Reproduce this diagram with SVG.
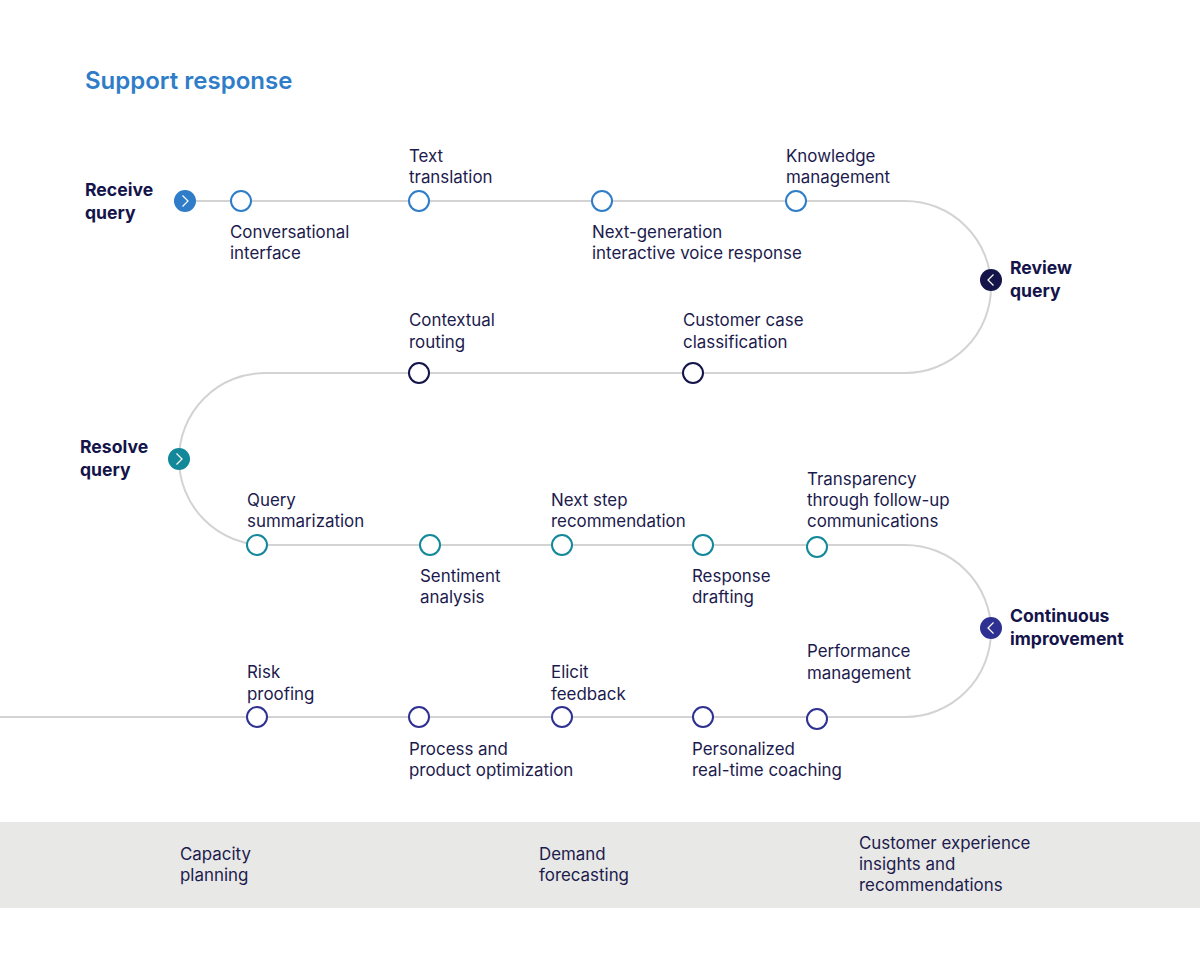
<svg xmlns="http://www.w3.org/2000/svg" width="1200" height="955" viewBox="0 0 1200 955">
<defs>
<style>
.lbl{font-family:Inter,"Liberation Sans",sans-serif;font-size:16.9px;fill:#1c1b4d}
.stage{font-family:Inter,"Liberation Sans",sans-serif;font-size:17.6px;font-weight:700;fill:#14144a}
.title{font-family:Inter,"Liberation Sans",sans-serif;font-size:24px;font-weight:600;fill:#2f7dc8}
.path{fill:none;stroke:#d3d3d3;stroke-width:2}
.n1{fill:#fff;stroke:#2f7dc8;stroke-width:2}
.n2{fill:#fff;stroke:#14144a;stroke-width:2}
.n3{fill:#fff;stroke:#13889a;stroke-width:2}
.n4{fill:#fff;stroke:#2e3192;stroke-width:2}
.chev{fill:none;stroke:#fff;stroke-width:1.2}
</style>
</defs>
<rect width="1200" height="955" fill="#fff"/>
<rect x="0" y="822" width="1200" height="86" fill="#e8e8e6"/>
<text class="title" x="85" y="89">Support response</text>
<g id="connectors">
<path class="path" d="M185,201 H905 A86,86 0 0 1 905,373 H265 A86,86 0 0 0 265,545 H905 A86,86 0 0 1 905,717 H0"/>
</g>
<g id="receive-query">
<circle cx="185" cy="201" r="11" fill="#2f7dc8"/>
<path class="chev" d="M182.5,195.5 L188,201 L182.5,206.5"/>
<text class="stage" x="85" y="196">Receive</text>
<text class="stage" x="85" y="219">query</text>
</g>
<g id="conversational-interface"><circle class="n1" cx="241" cy="201" r="10"/><text class="lbl" x="230" y="238">Conversational</text><text class="lbl" x="230" y="259">interface</text></g>
<g id="text-translation"><circle class="n1" cx="419" cy="201" r="10"/><text class="lbl" x="409" y="162">Text</text><text class="lbl" x="409" y="183">translation</text></g>
<g id="next-gen-ivr"><circle class="n1" cx="602" cy="201" r="10"/><text class="lbl" x="592" y="238">Next-generation</text><text class="lbl" x="592" y="259">interactive voice response</text></g>
<g id="knowledge-management"><circle class="n1" cx="796" cy="201" r="10"/><text class="lbl" x="786" y="162">Knowledge</text><text class="lbl" x="786" y="183">management</text></g>
<g id="review-query">
<circle cx="991" cy="280" r="11" fill="#14144a"/>
<path class="chev" d="M993.5,274.5 L988,280 L993.5,285.5"/>
<text class="stage" x="1010" y="274">Review</text>
<text class="stage" x="1010" y="297">query</text>
</g>
<g id="contextual-routing"><circle class="n2" cx="419" cy="373" r="10"/><text class="lbl" x="409" y="326">Contextual</text><text class="lbl" x="409" y="348">routing</text></g>
<g id="customer-case-classification"><circle class="n2" cx="693" cy="373" r="10"/><text class="lbl" x="683" y="326">Customer case</text><text class="lbl" x="683" y="348">classification</text></g>
<g id="resolve-query">
<circle cx="179" cy="459" r="11" fill="#13889a"/>
<path class="chev" d="M176.5,453.5 L182,459 L176.5,464.5"/>
<text class="stage" x="80" y="453">Resolve</text>
<text class="stage" x="80" y="476">query</text>
</g>
<g id="query-summarization"><circle class="n3" cx="257" cy="545" r="10"/><text class="lbl" x="247" y="506">Query</text><text class="lbl" x="247" y="527">summarization</text></g>
<g id="sentiment-analysis"><circle class="n3" cx="430" cy="545" r="10"/><text class="lbl" x="420" y="582">Sentiment</text><text class="lbl" x="420" y="603">analysis</text></g>
<g id="next-step-recommendation"><circle class="n3" cx="562" cy="545" r="10"/><text class="lbl" x="551" y="506">Next step</text><text class="lbl" x="551" y="527">recommendation</text></g>
<g id="response-drafting"><circle class="n3" cx="703" cy="545" r="10"/><text class="lbl" x="692" y="582">Response</text><text class="lbl" x="692" y="603">drafting</text></g>
<g id="transparency"><circle class="n3" cx="817" cy="547" r="10"/><text class="lbl" x="807" y="485">Transparency</text><text class="lbl" x="807" y="506">through follow-up</text><text class="lbl" x="807" y="527">communications</text></g>
<g id="continuous-improvement">
<circle cx="991" cy="628" r="11" fill="#2e3192"/>
<path class="chev" d="M993.5,622.5 L988,628 L993.5,633.5"/>
<text class="stage" x="1010" y="622">Continuous</text>
<text class="stage" x="1010" y="645">improvement</text>
</g>
<g id="risk-proofing"><circle class="n4" cx="257" cy="717" r="10"/><text class="lbl" x="247" y="678">Risk</text><text class="lbl" x="247" y="700">proofing</text></g>
<g id="process-product-optimization"><circle class="n4" cx="419" cy="717" r="10"/><text class="lbl" x="409" y="755">Process and</text><text class="lbl" x="409" y="776">product optimization</text></g>
<g id="elicit-feedback"><circle class="n4" cx="562" cy="717" r="10"/><text class="lbl" x="551" y="678">Elicit</text><text class="lbl" x="551" y="700">feedback</text></g>
<g id="personalized-coaching"><circle class="n4" cx="703" cy="717" r="10"/><text class="lbl" x="692" y="755">Personalized</text><text class="lbl" x="692" y="776">real-time coaching</text></g>
<g id="performance-management"><circle class="n4" cx="817" cy="719" r="10"/><text class="lbl" x="807" y="657">Performance</text><text class="lbl" x="807" y="679">management</text></g>
<g id="capacity-planning"><text class="lbl" x="180" y="860">Capacity</text><text class="lbl" x="180" y="881">planning</text></g>
<g id="demand-forecasting"><text class="lbl" x="539" y="860">Demand</text><text class="lbl" x="539" y="881">forecasting</text></g>
<g id="cx-insights"><text class="lbl" x="859" y="849">Customer experience</text><text class="lbl" x="859" y="870">insights and</text><text class="lbl" x="859" y="891">recommendations</text></g>
</svg>
